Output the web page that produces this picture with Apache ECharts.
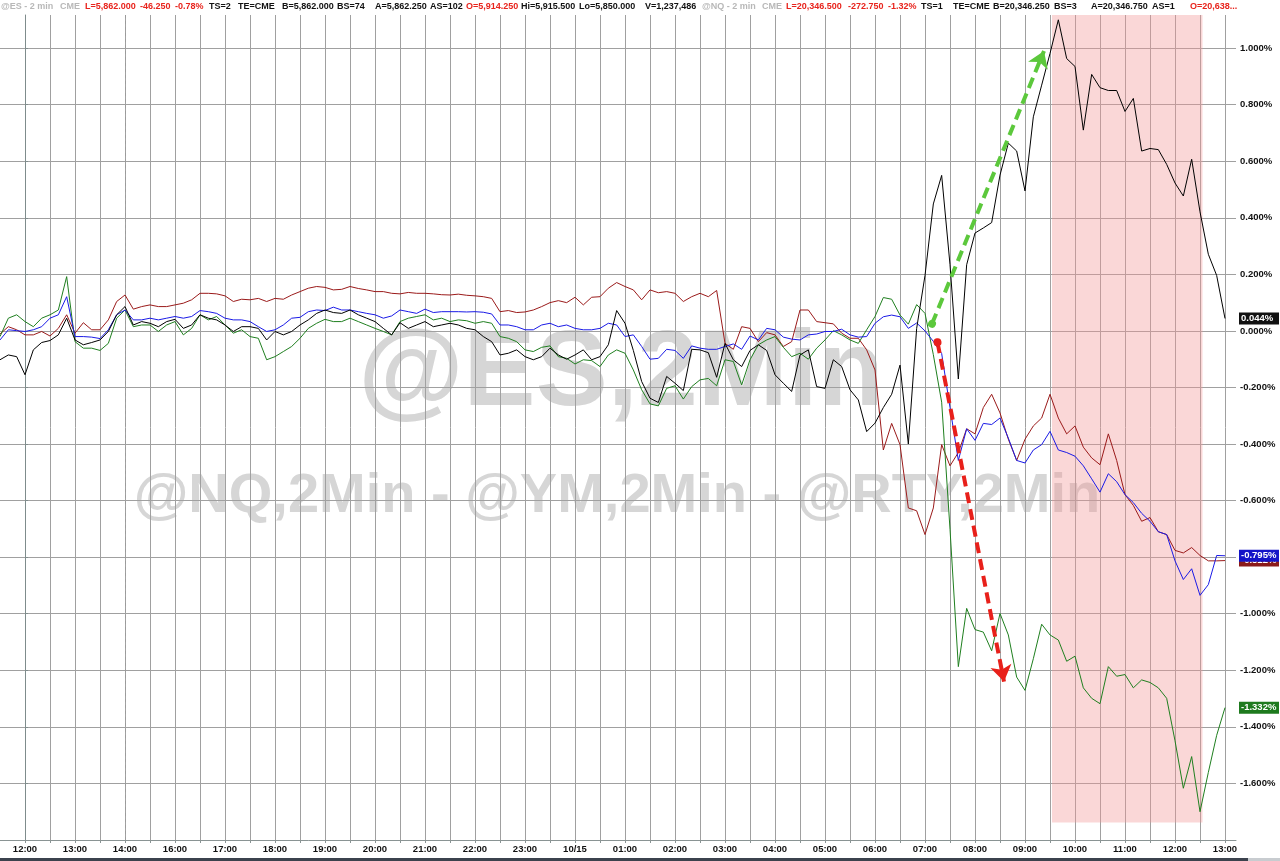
<!DOCTYPE html>
<html><head><meta charset="utf-8">
<script src="https://cdn.jsdelivr.net/npm/echarts@6/dist/echarts.min.js"></script>
<style>html,body{margin:0;padding:0;background:#fff}#c{width:1280px;height:861px}</style>
</head><body><div id="c"></div>
<script>
// ---------------- DATA ----------------
// x = trading hours after 12:00 (15:00-16:00 halt removed), 10-minute samples
const X_START = -0.5;
const X_STEP = 1 / 6;
const TICK_LABELS = ['12:00','13:00','14:00','16:00','17:00','18:00','19:00','20:00','21:00','22:00','23:00','10/15','01:00','02:00','03:00','04:00','05:00','06:00','07:00','08:00','09:00','10:00','11:00','12:00','13:00'];

// % change series
const RTY = [ // black
-0.102,-0.085,-0.091,-0.155,-0.067,-0.041,-0.034,-0.014,0.045,-0.032,-0.049,-0.041,-0.032,-0.002,0.057,0.086,0.021,0.033,0.027,0.015,0.033,0.041,0.009,0.021,0.057,0.045,0.039,0.021,-0.002,0.015,0.015,0.009,-0.032,-0.002,-0.014,-0.002,0.021,0.039,
0.062,0.074,0.065,0.062,0.074,0.057,0.045,0.033,0.009,-0.014,0.029,0.009,0.021,0.033,0.015,0.021,0.027,0.021,0.009,0.004,-0.020,-0.038,-0.085,-0.079,-0.067,-0.091,-0.102,-0.091,-0.061,-0.085,-0.100,-0.085,-0.067,-0.102,-0.091,-0.049,
0.072,0.027,-0.069,-0.179,-0.238,-0.253,-0.161,-0.185,-0.211,-0.065,-0.067,-0.077,-0.164,-0.044,-0.102,-0.126,-0.069,-0.049,-0.069,-0.155,-0.185,-0.214,-0.085,-0.067,-0.197,-0.203,-0.102,-0.126,-0.208,-0.244,-0.356,-0.326,
-0.271,-0.224,-0.121,-0.400,0.009,0.196,0.449,0.550,0.234,-0.170,0.234,0.346,0.364,0.383,0.551,0.664,0.636,0.495,0.757,0.869,0.981,1.100,0.963,0.935,0.710,0.907,0.860,0.850,0.850,0.776,0.822,0.636,0.645,0.641,0.589,0.523,0.477,0.607,0.421,0.271,0.196,0.044];
const ES = [ // blue
-0.032,0.004,0.001,-0.002,0.004,0.015,0.045,0.057,0.121,-0.020,-0.020,-0.022,-0.027,0.004,0.057,0.074,0.039,0.039,0.045,0.039,0.045,0.051,0.045,0.051,0.072,0.068,0.062,0.045,0.039,0.039,0.033,0.015,-0.002,0.004,0.021,0.045,0.048,0.068,
0.074,0.072,0.084,0.074,0.074,0.068,0.062,0.057,0.045,0.053,0.074,0.068,0.062,0.077,0.065,0.068,0.068,0.068,0.067,0.068,0.066,0.060,0.021,0.021,0.015,0.004,0.004,0.021,0.027,0.015,0.021,0.009,0.004,0.004,0.009,0.027,
0.021,-0.020,-0.014,-0.055,-0.100,-0.097,-0.065,-0.069,-0.097,-0.053,-0.061,-0.065,-0.065,-0.055,-0.046,-0.065,-0.018,-0.032,0.009,0.004,-0.022,-0.029,-0.032,-0.014,-0.011,-0.002,-0.002,0.006,-0.014,-0.022,-0.020,0.027,
0.050,0.056,0.050,0.009,0.028,0.000,-0.037,-0.080,-0.271,-0.458,-0.346,-0.387,-0.327,-0.331,-0.308,-0.379,-0.458,-0.467,-0.421,-0.402,-0.355,-0.421,-0.430,-0.443,-0.477,-0.523,-0.570,-0.505,-0.533,-0.579,-0.607,-0.645,-0.673,-0.710,-0.720,-0.813,-0.879,-0.841,-0.935,-0.897,-0.794,-0.795];
const YM = [ // dark red
-0.011,0.015,0.004,-0.014,-0.014,-0.002,-0.018,0.009,0.057,-0.008,0.029,0.004,0.004,0.039,0.104,0.127,0.077,0.086,0.092,0.086,0.086,0.092,0.098,0.110,0.133,0.133,0.131,0.124,0.104,0.112,0.110,0.115,0.104,0.115,0.112,0.127,0.139,0.151,
0.157,0.154,0.145,0.147,0.157,0.150,0.145,0.139,0.139,0.133,0.131,0.136,0.133,0.133,0.131,0.128,0.127,0.130,0.126,0.124,0.121,0.115,0.068,0.072,0.065,0.067,0.074,0.086,0.100,0.107,0.100,0.119,0.092,0.119,0.121,0.151,
0.171,0.157,0.145,0.110,0.145,0.135,0.139,0.133,0.104,0.121,0.133,0.121,0.143,-0.044,-0.065,0.015,0.009,-0.038,-0.006,-0.014,-0.055,-0.038,0.074,0.074,0.033,0.029,0.025,-0.008,-0.026,-0.026,-0.067,-0.138,
-0.421,-0.327,-0.402,-0.626,-0.636,-0.720,-0.626,-0.402,-0.477,-0.430,-0.346,-0.364,-0.271,-0.224,-0.290,-0.383,-0.458,-0.383,-0.336,-0.308,-0.224,-0.308,-0.364,-0.336,-0.411,-0.449,-0.473,-0.364,-0.458,-0.579,-0.617,-0.673,-0.660,-0.710,-0.720,-0.776,-0.785,-0.766,-0.794,-0.813,-0.813,-0.812];
const NQ = [ // green
-0.020,0.045,0.057,0.033,0.015,0.045,0.057,0.074,0.192,-0.038,-0.061,-0.061,-0.069,-0.044,0.045,0.074,0.015,0.021,0.021,-0.002,0.021,0.033,-0.014,0.009,0.057,0.039,0.051,0.021,-0.008,0.004,-0.020,-0.026,-0.102,-0.091,-0.073,-0.055,-0.026,0.009,
0.027,0.041,0.033,0.033,0.045,0.033,0.021,0.009,-0.002,-0.014,0.033,0.045,0.051,0.057,0.039,0.045,0.033,0.039,0.036,0.027,0.033,0.027,-0.020,-0.026,-0.038,-0.067,-0.073,-0.058,-0.053,-0.091,-0.097,-0.117,-0.102,-0.105,-0.126,-0.085,
-0.067,-0.079,-0.138,-0.208,-0.258,-0.265,-0.203,-0.194,-0.241,-0.197,-0.173,-0.168,-0.194,-0.102,-0.108,-0.191,-0.102,-0.049,-0.032,-0.020,-0.058,-0.091,-0.079,-0.100,-0.061,-0.032,0.001,-0.014,-0.032,-0.044,0.004,0.051,
0.118,0.112,0.056,0.024,0.093,0.062,-0.084,-0.252,-0.701,-1.187,-0.981,-1.056,-1.065,-1.131,-0.999,-1.075,-1.224,-1.271,-1.159,-1.037,-1.075,-1.093,-1.168,-1.150,-1.262,-1.299,-1.318,-1.187,-1.221,-1.215,-1.262,-1.234,-1.243,-1.262,-1.299,-1.449,-1.617,-1.505,-1.700,-1.561,-1.430,-1.332];

const LAST_VALUES = [ // last-price tags on the right axis
  {name:'YM', value:-0.812, text:'-0.812%'},
  {name:'ES', value:-0.795, text:'-0.795%'},
  {name:'RTY', value:0.044, text:'0.044%'},
  {name:'NQ', value:-1.332, text:'-1.332%'}
];
// annotations (data coordinates)
const SHADE = [[20.54, 1.117], [23.55, -1.738]];
const GREEN_ARROW = [[18.14, 0.025], [20.38, 0.99]];
const RED_ARROW = [[18.25, -0.04], [19.58, -1.24]];
const SESSION_BREAK = 2; // 14:00

const HEADER = [
  ['@ES - 2 min','g'],['CME','g'],['L=5,862.000','r'],['-46.250','r'],['-0.78%','r'],['TS=2','k'],['TE=CME','k'],['B=5,862.000','k'],['BS=74','k'],['A=5,862.250','k'],['AS=102','k'],['O=5,914.250','r'],['Hi=5,915.500','k'],['Lo=5,850.000','k'],['V=1,237,486','k'],
  ['@NQ - 2 min','g'],['CME','g'],['L=20,346.500','r'],['-272.750','r'],['-1.32%','r'],['TS=1','k'],['TE=CME','k'],['B=20,346.250','k'],['BS=3','k'],['A=20,346.750','k'],['AS=1','k'],['O=20,638...','r']
];
const WATERMARK_1 = '@ES,2Min';
const WATERMARK_2 = '@NQ,2Min - @YM,2Min - @RTY,2Min';

// ---------------- LAYOUT / STYLE ----------------
const HEADER_X = [1,60,85,140,175,209,238,282,337,375,430,466,521,579,645,702,762,786,848,888,921,953,993,1054,1091,1152,1190];
const HEADER_COL = {g:'#b8b8b8', r:'#e8231c', k:'#111111'};
const FONT = '"Liberation Sans", Arial, sans-serif';
const COLORS = {RTY:'#000000', ES:'#1a1ae6', YM:'#9a1a1a', NQ:'#1f7f1f'};
const TAG_BG = {RTY:'#111111', ES:'#1414c8', YM:'#8a1a1a', NQ:'#1e7a1e'};
const GRID_COL = '#a0a0a0';

const toXY = arr => arr.map((v, i) => [X_START + i * X_STEP, v]);
const lineSeries = (name, arr) => ({
  name, type:'line', data: toXY(arr), showSymbol:false, symbol:'none', z:3,
  lineStyle:{color:COLORS[name], width:1}, itemStyle:{color:COLORS[name]}
});

const chart = echarts.init(document.getElementById('c'), null, {renderer:'canvas'});
chart.setOption({
  animation:false,
  backgroundColor:'#ffffff',
  grid:{left:0, right:44, top:15, bottom:21, containLabel:false},
  xAxis:{
    type:'value', min:-0.5, max:24.22, interval:0.5,
    axisLine:{show:true, onZero:false, lineStyle:{color:'#8a9494', width:1}},
    axisTick:{show:true, length:3, lineStyle:{color:'#8a9494'}},
    axisLabel:{
      formatter:(v) => { const r = Math.round(v); return (Math.abs(v - r) < 1e-6 && r >= 0 && r < TICK_LABELS.length) ? TICK_LABELS[r] : ''; },
      fontFamily:FONT, fontSize:9.5, fontWeight:'bold', color:'#111', margin:4,
      showMinLabel:false, showMaxLabel:false
    },
    splitLine:{show:true, showMinLine:false, showMaxLine:false, lineStyle:{color:GRID_COL, width:1}}
  },
  yAxis:{
    type:'value', position:'right', min:-1.8, max:1.117, interval:0.2,
    axisLine:{show:true, lineStyle:{color:'#7f8c8c', width:1}},
    axisTick:{show:true, length:3, lineStyle:{color:'#7f8c8c'}},
    axisLabel:{
      formatter:(v) => v.toFixed(3) + '%',
      fontFamily:FONT, fontSize:9.5, fontWeight:'bold', color:'#111', margin:4,
      showMinLabel:false, showMaxLabel:false
    },
    splitLine:{show:true, showMinLine:false, showMaxLine:false, lineStyle:{color:GRID_COL, width:1}}
  },
  series:[
    {
      name:'annot', type:'line', data:[], z:1, silent:true,
      markArea:{silent:true, z:1, itemStyle:{color:'rgba(242,150,150,0.38)'},
        data:[[{coord:SHADE[0]}, {coord:SHADE[1]}]]},
      markLine:{silent:true, z:1, symbol:'none', label:{show:false},
        lineStyle:{color:'#9a9a9a', type:[3,3], width:1},
        data:[{xAxis:SESSION_BREAK}]}
    },
    lineSeries('YM', YM),
    lineSeries('NQ', NQ),
    lineSeries('ES', ES),
    lineSeries('RTY', RTY),
    {
      name:'arrows', type:'lines', coordinateSystem:'cartesian2d', z:6, silent:true,
      symbol:['circle','arrow'], symbolSize:[8,16],
      data:[
        {coords:GREEN_ARROW, lineStyle:{color:'#5cc83c'}},
        {coords:RED_ARROW, lineStyle:{color:'#e8201a'}}
      ],
      lineStyle:{width:4, type:[11,6], opacity:1, curveness:0}
    }
  ]
});

// graphics
const g = [];
// watermarks (behind everything)
g.push({type:'text', z:-10, silent:true, x:621, y:375,
  style:{text:WATERMARK_1, font:'bold 108px ' + FONT, fill:'#d6d6d6', textAlign:'center', textVerticalAlign:'middle'}});
g.push({type:'text', z:-10, silent:true, x:617, y:497,
  style:{text:WATERMARK_2, font:'bold 56px ' + FONT, fill:'#d6d6d6', textAlign:'center', textVerticalAlign:'middle'}});
// header
HEADER.forEach((h, i) => {
  g.push({type:'text', z:50, silent:true, x:HEADER_X[i], y:7,
    style:{text:h[0], font:'bold 9px ' + FONT, fill:HEADER_COL[h[1]], textVerticalAlign:'middle'}});
});
// last value tags
LAST_VALUES.forEach((t) => {
  const py = chart.convertToPixel({yAxisIndex:0}, t.value);
  g.push({type:'text', z:60, silent:true, x:1239, y:py,
    style:{text:t.text, font:'bold 9.5px ' + FONT, fill:'#ffffff', textVerticalAlign:'middle',
      backgroundColor:TAG_BG[t.name], padding:[1,3,1,2], width:35}});
});
// bottom scroll strip
g.push({type:'rect', z:70, silent:true, shape:{x:0, y:858, width:1280, height:3}, style:{fill:'#3b424d'}});
g.push({type:'rect', z:71, silent:true, shape:{x:1248, y:858, width:32, height:3}, style:{fill:'#c8ccd0'}});
chart.setOption({graphic:g});
</script>
</body></html>
